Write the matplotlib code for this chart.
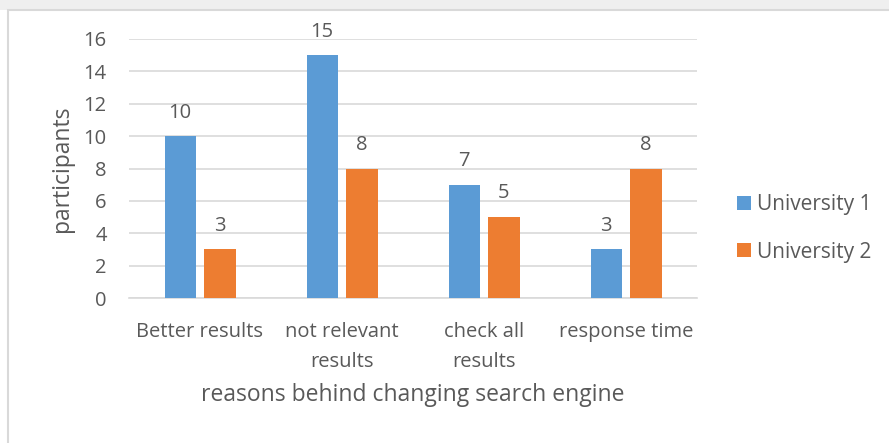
import matplotlib
matplotlib.use("Agg")
import matplotlib.pyplot as plt
import numpy as np
from matplotlib.patches import Rectangle

categories = ["Better results", "not relevant\nresults", "check all\nresults", "response time"]
series_names = ["University 1", "University 2"]
uni1 = [10, 15, 7, 3]
uni2 = [3, 8, 5, 8]
yticks = [0, 2, 4, 6, 8, 10, 12, 14, 16]

blue = "#5B9BD5"
orange = "#ED7D31"
txt = "#595959"
grid = "#D9D9D9"

plt.rcParams['font.family'] = ['Open Sans', 'DejaVu Sans']

fig = plt.figure(figsize=(8.89, 4.43), dpi=100)
fig.patch.set_facecolor("white")
# light grey strip at top and chart border
fig.patches.append(Rectangle((0, 1 - 10/443), 1, 10/443, transform=fig.transFigure,
                             facecolor="#EFEFEF", edgecolor="none", zorder=-10))
fig.patches.append(Rectangle((8/889, -0.05), 1.05, 1 - 10/443 + 0.05, transform=fig.transFigure,
                             facecolor="white", edgecolor="#D9D9D9", linewidth=1.5, zorder=-9))

ax = fig.add_axes([129/889, 145/443, 568/889, 259/443])
ax.set_facecolor("none")
x = np.arange(len(categories))
w = 0.22
off = 0.14
b1 = ax.bar(x - off, uni1, w, color=blue, label=series_names[0], zorder=3)
b2 = ax.bar(x + off, uni2, w, color=orange, label=series_names[1], zorder=3)
for bars, vals in ((b1, uni1), (b2, uni2)):
    for r, v in zip(bars, vals):
        ax.annotate(str(v), (r.get_x() + r.get_width() / 2, v), xytext=(0, 17),
                    textcoords="offset points", ha="center", va="center",
                    fontsize=14.5, color=txt)

ax.set_xlim(-0.5, len(categories) - 0.5)
ax.set_ylim(0, 16)
ax.set_yticks(yticks)
ax.set_yticklabels([str(t) for t in yticks])
ax.yaxis.grid(True, color=grid, linewidth=1.2, zorder=0)
ax.set_axisbelow(True)
for s in ["top", "right", "left"]:
    ax.spines[s].set_visible(False)
ax.spines["bottom"].set_color(grid)
ax.spines["bottom"].set_linewidth(1.2)
ax.tick_params(axis="both", length=0, colors=txt, labelsize=14.5)
ax.tick_params(axis="y", pad=16)
ax.tick_params(axis="x", pad=17)
ax.set_xticks(x)
ax.set_xticklabels(categories, linespacing=1.72)
ax.set_ylabel("participants", fontsize=16.5, color=txt, labelpad=7)
ax.set_xlabel("reasons behind changing search engine", fontsize=16.5, color=txt, labelpad=7.5)

leg = fig.legend(loc="center left", bbox_to_anchor=(737/889, 1 - 228.5/443),
                 bbox_transform=fig.transFigure, frameon=False, borderpad=0, borderaxespad=0,
                 fontsize=15, handlelength=0.68, handleheight=0.68, handletextpad=0.3,
                 labelspacing=1.25, labelcolor=txt)

fig.savefig("out.png", dpi=100)
